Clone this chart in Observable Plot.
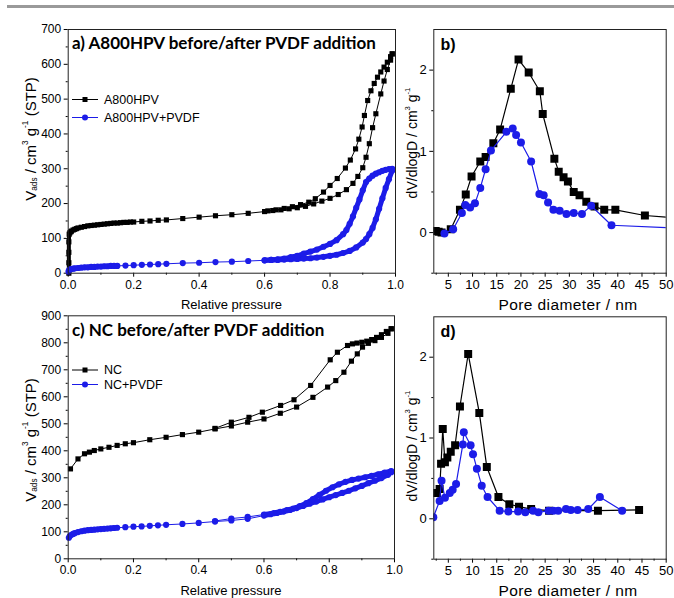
<!DOCTYPE html>
<html><head><meta charset="utf-8">
<script src="https://cdn.jsdelivr.net/npm/d3@7"></script>
<script src="https://cdn.jsdelivr.net/npm/@observablehq/plot@0.6"></script>
<style>
body{margin:0;background:#fff;}
#fig{position:relative;width:674px;height:598px;overflow:hidden;background:#fff;}
#fig svg{position:absolute;overflow:visible;background:transparent;max-width:none;}
.bar{position:absolute;left:7px;top:5px;width:667px;height:3px;background:#9a9a9a;}
</style></head><body><div id="fig"><div class="bar"></div></div>
<script>
// ---------- Panel a: A800HPV isotherms (relative pressure, V_ads) ----------
const aBlackAdsP = [0.002,0.002,0.002,0.002,0.003,0.005,0.008,0.01,0.015,0.02,0.025,0.03,0.04,0.05,0.06,0.07,0.08,0.09,0.10,0.11,0.12,0.13,0.14,0.15,0.16,0.17,0.18,0.19,0.20,0.225,0.25,0.275,0.30,0.35,0.40,0.45,0.50,0.55,0.60,0.625,0.65,0.675,0.70,0.725,0.75,0.775,0.80,0.825,0.85,0.87,0.885,0.90,0.91,0.92,0.93,0.94,0.955,0.965,0.975,0.985,0.99];
const aBlackAdsV = [0,30,60,90,112,116,119,121,124,126,128,130,132,134,136,137,138,139,140,141,142,143,144,144,145,146,146,147,147,149,150,152,153,157,161,165,168,172,177,180,182,185,188,192,199,207,215,226,240,258,278,303,333,372,418,458,515,552,585,612,630];
const aBlackDesP = [0.99,0.985,0.975,0.965,0.955,0.945,0.935,0.925,0.915,0.905,0.898,0.888,0.878,0.862,0.847,0.822,0.80,0.78,0.755,0.735,0.71,0.685,0.66,0.635,0.61];
const aBlackDesV = [630,622,606,592,578,563,545,524,496,453,420,385,357,325,302,272,252,233,214,204,197,191,186,182,179];
const aBlueAdsP = [0.001,0.003,0.006,0.01,0.015,0.02,0.03,0.04,0.05,0.06,0.07,0.08,0.09,0.10,0.11,0.12,0.13,0.14,0.15,0.175,0.20,0.225,0.25,0.275,0.30,0.35,0.40,0.45,0.50,0.55,0.60,0.62,0.64,0.66,0.68,0.70,0.72,0.74,0.76,0.78,0.80,0.82,0.84,0.86,0.88,0.90,0.91,0.92,0.93,0.94,0.95,0.96,0.97,0.98,0.99];
const aBlueAdsV = [5,9,11,12,13,14,15,16,17,17,18,18,19,19,20,20,21,21,21,22,23,24,25,26,27,29,30,32,33,35,37,38,38,39,40,41,42,43,45,47,50,53,58,64,74,88,98,112,130,155,185,215,245,270,295];
const aBlueDesP = [0.99,0.98,0.97,0.96,0.95,0.94,0.93,0.92,0.91,0.90,0.89,0.88,0.87,0.86,0.85,0.84,0.82,0.80,0.78,0.76,0.74,0.72,0.70,0.68,0.66,0.64,0.62,0.60];
const aBlueDesV = [300,299,297,294,290,286,280,272,262,238,212,188,163,142,124,112,95,84,76,68,62,56,50,46,42,40,38,37];

// ---------- Panel c: NC isotherms ----------
const cBlackAdsP = [0.007,0.03,0.05,0.065,0.08,0.10,0.125,0.15,0.175,0.20,0.25,0.30,0.35,0.40,0.45,0.50,0.55,0.60,0.65,0.70,0.75,0.795,0.82,0.845,0.868,0.886,0.902,0.92,0.94,0.96,0.98,0.99];
const cBlackAdsV = [333,370,389,395,401,407,413,420,426,430,441,450,460,469,481,492,506,518,539,562,598,636,660,691,732,759,784,798,808,820,835,852];
const cBlackDesP = [0.99,0.975,0.96,0.945,0.93,0.915,0.90,0.885,0.871,0.856,0.825,0.803,0.743,0.692,0.651,0.595,0.554,0.50,0.45];
const cBlackDesV = [852,842,830,820,812,806,802,799,796,790,765,737,642,589,568,543,524,506,483];
const cBlueAdsP = [0.002,0.005,0.01,0.015,0.02,0.03,0.04,0.05,0.06,0.07,0.08,0.09,0.10,0.11,0.12,0.13,0.14,0.15,0.175,0.20,0.225,0.25,0.275,0.30,0.35,0.40,0.45,0.50,0.55,0.60,0.62,0.64,0.66,0.68,0.70,0.72,0.74,0.76,0.78,0.80,0.82,0.84,0.86,0.88,0.90,0.92,0.94,0.96,0.98,0.99];
const cBlueAdsV = [78,84,89,92,95,99,102,104,106,107,108,109,110,111,112,113,114,115,117,119,120,122,124,126,129,133,138,142,148,160,165,170,175,181,188,196,204,212,220,228,236,244,252,261,270,280,289,299,311,321];
const cBlueDesP = [0.99,0.97,0.95,0.93,0.91,0.89,0.87,0.85,0.83,0.81,0.79,0.77,0.75,0.73,0.71,0.69,0.67,0.65,0.63,0.60,0.55,0.50,0.45];
const cBlueDesV = [325,319,313,307,302,297,292,285,276,265,252,237,221,206,195,186,180,174,169,164,155,149,140];

// ---------- Panel b: A800HPV pore size distribution ----------
const bBlackD = [2.4,3.0,3.6,5.5,7.4,8.6,9.8,11.6,12.7,14.3,15.7,17.9,19.5,21.6,23.9,24.5,26.9,27.8,28.8,29.7,30.9,32.1,33.5,35.2,37.2,39.5,45.6,52];
const bBlackV = [0.02,0.01,0.0,0.04,0.28,0.47,0.69,0.875,0.93,1.10,1.27,1.77,2.13,1.97,1.74,1.46,0.91,0.75,0.68,0.63,0.50,0.46,0.38,0.32,0.28,0.28,0.21,0.18];
const bBlueD = [4.2,6.0,7.8,8.5,9.5,10.5,11.6,12.7,13.8,17.0,18.3,19.0,20.0,22.1,23.8,24.7,25.6,26.7,28.0,29.4,30.9,32.6,34.5,38.7,52];
const bBlueV = [-0.01,0.04,0.24,0.34,0.31,0.36,0.55,0.78,1.01,1.24,1.28,1.20,1.11,0.875,0.475,0.46,0.37,0.28,0.27,0.23,0.24,0.23,0.33,0.09,0.055];

// ---------- Panel d: NC pore size distribution ----------
const dBlackD = [2.66,3.2,3.5,3.85,4.3,4.8,5.5,6.4,7.4,9.1,11.4,12.95,15.35,17.6,19.6,22.1,25.8,35.9,44.4];
const dBlackV = [0.32,0.37,0.68,1.11,0.70,0.76,0.83,0.91,1.39,2.04,1.31,0.64,0.27,0.18,0.15,0.12,0.10,0.10,0.11];
const dBlueD = [1.9,3.2,3.6,4.3,5.3,5.9,6.6,8.0,8.2,9.6,10.1,10.9,11.9,13.1,15.6,17.4,19.4,20.9,22.5,23.6,25.7,26.7,27.7,29.3,30.3,31.7,33.9,36.3,40.9];
const dBlueV = [0.02,0.22,0.47,0.26,0.32,0.36,0.43,0.92,1.07,0.91,0.80,0.62,0.41,0.27,0.10,0.09,0.09,0.08,0.10,0.08,0.10,0.10,0.10,0.12,0.11,0.11,0.12,0.27,0.10];

// ---------- Tick values and texts ----------
const pTicks = [0, 0.2, 0.4, 0.6, 0.8, 1.0];
const pMinor = [0.1, 0.3, 0.5, 0.7, 0.9];
const aVTicks = [0,100,200,300,400,500,600,700];
const cVTicks = [0,100,200,300,400,500,600,700,800,900];
const dTicks = [5,10,15,20,25,30,35,40,45,50];
const dMinor = [2.5,7.5,12.5,17.5,22.5,27.5,32.5,37.5,42.5,47.5];
const psdTicks = [0,1,2];
const psdMinor = [-0.5,0.5,1.5];
const titleA = "a) A800HPV before/after PVDF addition";
const titleC = "c) NC before/after PVDF addition";
const legendA = ["A800HPV", "A800HPV+PVDF"];
const legendC = ["NC", "NC+PVDF"];

const BLUE = "#1c1ce8";
const FONT = "'Liberation Sans', Arial, sans-serif";
const fig = document.getElementById("fig");

function toRows(P, V, branch) { return P.map((p, i) => ({x: p, y: V[i], branch})); }

function axisMarks(xMaj, xMin, yMaj, yMin, xFmt, yFmt) {
  return [
    Plot.axisX(xMaj, {tickSize: 4, tickPadding: 3, tickFormat: xFmt, label: null}),
    Plot.axisX(xMin, {tickSize: 2, tickFormat: () => "", label: null}),
    Plot.axisY(yMaj, {tickSize: 4, tickPadding: 3, tickFormat: yFmt, label: null}),
    Plot.axisY(yMin, {tickSize: 2, tickFormat: () => "", label: null})
  ];
}

function place(svg, left, top) {
  svg.style.left = left + "px";
  svg.style.top = top + "px";
  fig.appendChild(svg);
  return d3.select(svg);
}

function yLabel(sel, cx, cy, size, parts) {
  const t = sel.append("text")
    .attr("transform", `translate(${cx},${cy}) rotate(-90)`)
    .attr("text-anchor", "middle").attr("dominant-baseline", "central")
    .attr("fill", "#000").style("font", `${size}px ${FONT}`);
  for (const p of parts) {
    const s = t.append("tspan").text(p.t);
    if (p.sub) s.attr("baseline-shift", "sub").style("font-size", (size * 0.55) + "px");
    if (p.sup) s.attr("baseline-shift", "super").style("font-size", (size * 0.55) + "px");
  }
}

function xLabel(sel, cx, cy, size, text, spacing) {
  sel.append("text").attr("x", cx).attr("y", cy).attr("text-anchor", "middle")
    .attr("dominant-baseline", "central").attr("fill", "#000")
    .style("font", `${size}px ${FONT}`).style("letter-spacing", spacing || "0px").text(text);
}

function title(sel, x, y, font, text) {
  sel.append("text").attr("x", x).attr("y", y).attr("text-anchor", "start")
    .attr("fill", "#000").style("font", font).text(text);
}

function legend(sel, x0, ys, labels) {
  ys.forEach((y, i) => {
    const col = i === 0 ? "#000" : BLUE;
    sel.append("line").attr("x1", x0).attr("x2", x0 + 26).attr("y1", y).attr("y2", y).attr("stroke", col).attr("stroke-width", 1);
    if (i === 0) sel.append("rect").attr("x", x0 + 10.5).attr("y", y - 2.5).attr("width", 5).attr("height", 5).attr("fill", col);
    else sel.append("circle").attr("cx", x0 + 13).attr("cy", y).attr("r", 3).attr("fill", col);
    sel.append("text").attr("x", x0 + 32).attr("y", y).attr("text-anchor", "start").attr("dominant-baseline", "central")
      .attr("fill", "#000").style("font", `12.5px ${FONT}`).text(labels[i]);
  });
}

function isoPlot({width, height, mt, mb, ml, mr, ymax, yTicks, black, blue, blackDense, blueDense}) {
  const yMinor = d3.range(50, ymax, 100);
  return Plot.plot({
    width, height, marginTop: mt, marginBottom: mb, marginLeft: ml, marginRight: mr,
    x: {domain: [0, 1]}, y: {domain: [0, ymax]},
    style: {background: "transparent", overflow: "visible", fontFamily: FONT, fontSize: "12px", color: "#000"},
    marks: [
      ...axisMarks(pTicks, pMinor, yTicks, yMinor, d3.format(".1f"), d3.format("d")),
      Plot.line(black, {x: "x", y: d => blackDense(d.x) ? d.y : NaN, z: "branch", stroke: "#000", strokeWidth: 4}),
      Plot.line(black, {x: "x", y: "y", z: "branch", stroke: "#000", strokeWidth: 1}),
      Plot.dot(black, {x: "x", y: "y", symbol: "square", r: 2.9, fill: "#000", stroke: "none"}),
      Plot.line(blue, {x: "x", y: d => blueDense(d.x) ? d.y : NaN, z: "branch", stroke: BLUE, strokeWidth: 5}),
      Plot.line(blue, {x: "x", y: "y", z: "branch", stroke: BLUE, strokeWidth: 1}),
      Plot.dot(blue, {x: "x", y: "y", r: 3.1, fill: BLUE, stroke: "none"}),
      Plot.frame({stroke: "#222"})
    ]
  });
}

function psdPlot({width, height, mt, mb, ml, mr, black, blue}) {
  return Plot.plot({
    width, height, marginTop: mt, marginBottom: mb, marginLeft: ml, marginRight: mr,
    x: {domain: [2, 50]}, y: {domain: [-0.5, 2.5]},
    style: {background: "transparent", overflow: "visible", fontFamily: FONT, fontSize: "13px", color: "#000"},
    marks: [
      ...axisMarks(dTicks, dMinor, psdTicks, psdMinor, d3.format("d"), d3.format("d")),
      Plot.line(black, {x: "x", y: "y", stroke: "#000", strokeWidth: 1.2, clip: true}),
      Plot.dot(black, {x: "x", y: "y", symbol: "square", r: 4.5, fill: "#000", stroke: "none", clip: true}),
      Plot.line(blue, {x: "x", y: "y", stroke: BLUE, strokeWidth: 1.2, clip: true}),
      Plot.dot(blue, {x: "x", y: "y", r: 4, fill: BLUE, stroke: "none", clip: true}),
      Plot.frame({stroke: "#222"})
    ]
  });
}

const TITLE_FONT = "bold 17px Lato, 'Open Sans', sans-serif";
const V_PARTS = [{t: "V"}, {t: "ads", sub: 1}, {t: " / cm"}, {t: "3", sup: 1}, {t: " g"}, {t: "-1", sup: 1}, {t: " (STP)"}];
const D_PARTS = [{t: "dV/dlogD / cm"}, {t: "3", sup: 1}, {t: " g"}, {t: "-1", sup: 1}];

// Panel a
const aBlack = [...toRows(aBlackAdsP, aBlackAdsV, "ads"), ...toRows(aBlackDesP, aBlackDesV, "des")];
const aBlue = [...toRows(aBlueAdsP, aBlueAdsV, "ads"), ...toRows(aBlueDesP, aBlueDesV, "des")];
const svgA = isoPlot({width: 400, height: 310, mt: 29, mb: 37.3, ml: 67.7, mr: 5, ymax: 700, yTicks: aVTicks,
  black: aBlack, blue: aBlue, blackDense: p => p <= 0.2, blueDense: p => p <= 0.15 || p >= 0.6});
const sa = place(svgA, 0, 0);
title(sa, 72, 49, TITLE_FONT, titleA);
legend(sa, 72, [99.5, 117.5], legendA);
yLabel(sa, 30, 139, 15, V_PARTS);
xLabel(sa, 231.5, 304, 13, "Relative pressure");

// Panel c
const cBlack = [...toRows(cBlackAdsP, cBlackAdsV, "ads"), ...toRows(cBlackDesP, cBlackDesV, "des")];
const cBlue = [...toRows(cBlueAdsP, cBlueAdsV, "ads"), ...toRows(cBlueDesP, cBlueDesV, "des")];
const svgC = isoPlot({width: 400, height: 293, mt: 10.3, mb: 39.7, ml: 67.7, mr: 6, ymax: 900, yTicks: cVTicks,
  black: cBlack, blue: cBlue, blackDense: p => false, blueDense: p => p <= 0.15 || p >= 0.6});
const sc = place(svgC, 0, 305);
title(sc, 72, 31, TITLE_FONT, titleC);
legend(sc, 72, [65, 79.5], legendC);
yLabel(sc, 30, 135, 15, V_PARTS);
xLabel(sc, 231, 285, 13, "Relative pressure");

// Panel b
const svgB = psdPlot({width: 274, height: 310, mt: 29, mb: 37.3, ml: 33.3, mr: 8.3,
  black: toRows(bBlackD, bBlackV, "b"), blue: toRows(bBlueD, bBlueV, "b")});
const sb = place(svgB, 400, 0);
title(sb, 40.5, 50, `bold 16px ${FONT}`, "b)");
yLabel(sb, 12, 143, 14, D_PARTS);
xLabel(sb, 168, 304, 15.5, "Pore diameter / nm", "0.4px");

// Panel d
const svgD = psdPlot({width: 274, height: 293, mt: 11.3, mb: 39.3, ml: 33.3, mr: 8.3,
  black: toRows(dBlackD, dBlackV, "d"), blue: toRows(dBlueD, dBlueV, "d")});
const sd = place(svgD, 400, 305);
title(sd, 40.5, 31.7, `bold 16px ${FONT}`, "d)");
yLabel(sd, 12, 141, 14, D_PARTS);
xLabel(sd, 168, 285, 15.5, "Pore diameter / nm", "0.4px");
</script></body></html>
